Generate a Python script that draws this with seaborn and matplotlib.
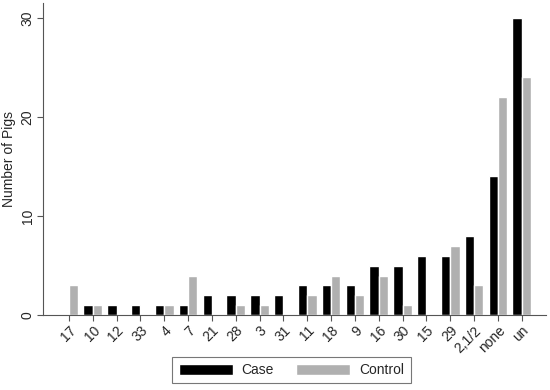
import pandas as pd
import matplotlib.pyplot as plt
import seaborn as sns

categories = ["17", "10", "12", "33", "4", "7", "21", "28", "3", "31",
              "11", "18", "9", "16", "30", "15", "29", "2,1/2", "none", "un"]
case = [0, 1, 1, 1, 1, 1, 2, 2, 2, 2, 3, 3, 3, 5, 5, 6, 6, 8, 14, 30]
control = [3, 1, 0, 0, 1, 4, 0, 1, 1, 0, 2, 4, 2, 4, 1, 0, 7, 3, 22, 24]

df = pd.DataFrame({
    "Category": categories * 2,
    "Count": case + control,
    "Group": ["Case"] * len(categories) + ["Control"] * len(categories),
})

sns.set_style("white")
plt.rcParams["font.family"] = ["Liberation Sans", "DejaVu Sans"]

fig = plt.figure(figsize=(5.5, 3.9), dpi=100)
ax = fig.add_axes([0.078, 0.192, 0.914, 0.8])

sns.barplot(data=df, x="Category", y="Count", hue="Group", order=categories,
            palette={"Case": "#000000", "Control": "#b0b0b0"},
            saturation=1, width=0.78, gap=0, ax=ax)

ax.set_xlim(-1.09, 20.0)
ax.set_ylim(0, 31.5)
ax.set_yticks([0, 10, 20, 30])
ax.set_yticklabels(["0", "10", "20", "30"], rotation=90, va="center", fontsize=10)
ax.set_xticks(range(len(categories)))
ax.set_xticklabels(categories, rotation=45, ha="right", rotation_mode="anchor", fontsize=10)
ax.set_xlabel("")
ax.set_ylabel("Number of Pigs", fontsize=10, labelpad=3)
ax.tick_params(axis="both", length=4, width=0.8, color="#555555", direction="out",
               bottom=True, left=True, pad=2)
for s in ["top", "right"]:
    ax.spines[s].set_visible(False)
for s in ["left", "bottom"]:
    ax.spines[s].set_color("#555555")
    ax.spines[s].set_linewidth(0.8)

ax.legend_.remove()
handles, labels = ax.get_legend_handles_labels()
leg = fig.legend(handles, labels, loc="center", bbox_to_anchor=(0.53, 0.051), ncol=2,
                 frameon=True, fancybox=False, edgecolor="#555555", fontsize=10,
                 handlelength=3.9, handleheight=0.85, handletextpad=0.65,
                 columnspacing=1.6, borderpad=0.45, borderaxespad=0)
leg.get_frame().set_linewidth(0.8)

fig.savefig("out.png", dpi=100)
